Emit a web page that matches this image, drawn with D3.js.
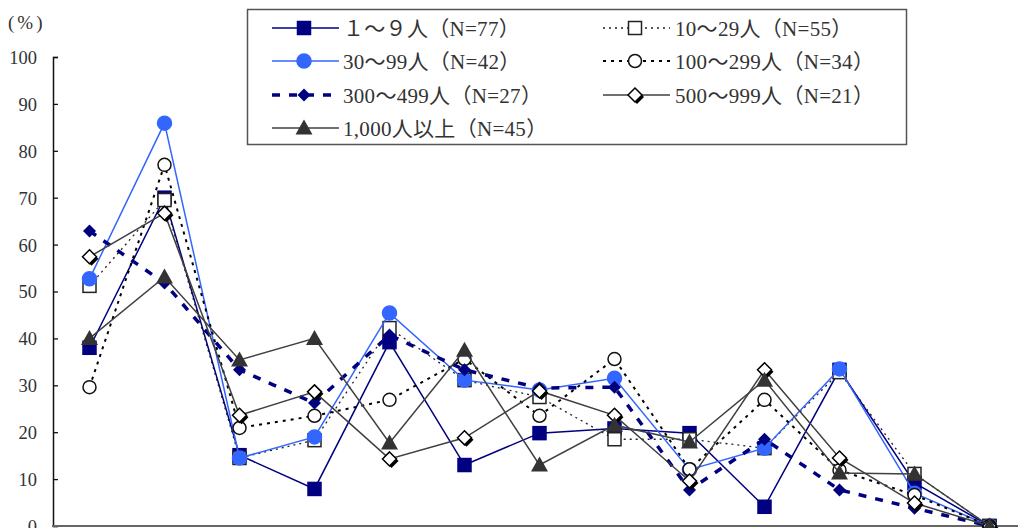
<!DOCTYPE html>
<html>
<head>
<meta charset="utf-8">
<script src="https://cdnjs.cloudflare.com/ajax/libs/d3/7.8.5/d3.min.js"></script>
<style>
  html, body { margin: 0; padding: 0; background: #fff; }
  svg { display: block; }
  text { font-family: "Liberation Serif", "DejaVu Serif", "Noto Sans CJK JP", serif; fill: #333; }
</style>
</head>
<body>
<svg id="chart" width="1018" height="528"></svg>
<script>
// Item index along the horizontal axis (13 response items)
const categories = ["1", "2", "3", "4", "5", "6", "7", "8", "9", "10", "11", "12", "13"];

// Share of respondents (%) by company size
const size1to9     = [38, 70, 15.1, 7.9, 39.2, 13, 19.8, 20.8, 19.8, 4.1, 33.3, 9.2, 0];
const size10to29   = [51.2, 69.5, 14.5, 18.3, 42.2, 31.1, 27.5, 18.5, 18.5, 16.6, 32.8, 11.1, 0];
const size30to99   = [52.7, 85.9, 14.5, 19, 45.4, 31.1, 29, 31.5, 12, 16.6, 33.5, 7, 0];
const size100to299 = [29.6, 77, 20.9, 23.5, 26.9, 35.6, 23.5, 35.6, 12.1, 26.9, 11.9, 6.6, 0];
const size300to499 = [62.9, 51.8, 33.3, 26.2, 40.7, 33.3, 29.4, 29.6, 7.7, 18.5, 7.7, 3.8, 0];
const size500to999 = [57.4, 66.7, 23.6, 28.6, 14.3, 18.8, 28.8, 23.6, 9.6, 33.3, 14.5, 4.9, 0];
const size1000plus = [40, 53.1, 35.4, 40, 17.7, 37.5, 13, 21.5, 17.9, 31.1, 11.3, 11.1, 0];

const seriesNames = [
  "１～９人（N=77）",
  "10～29人（N=55）",
  "30～99人（N=42）",
  "100～299人（N=34）",
  "300～499人（N=27）",
  "500～999人（N=21）",
  "1,000人以上（N=45）"
];
const yTicks = [0, 10, 20, 30, 40, 50, 60, 70, 80, 90, 100];

const styles = [
  { values: size1to9,     color: "#000080", width: 1.5, dash: null,  marker: "square",  fill: "#000080" },
  { values: size10to29,   color: "#222",    width: 1.3, dash: "2,4", marker: "square",  fill: "#fff" },
  { values: size30to99,   color: "#3366ff", width: 1.5, dash: null,  marker: "circle",  fill: "#3366ff" },
  { values: size100to299, color: "#000",    width: 2,   dash: "3,5", marker: "circle",  fill: "#fff" },
  { values: size300to499, color: "#000080", width: 3.5, dash: "8,9", marker: "diamond", fill: "#000080" },
  { values: size500to999, color: "#404040", width: 1.5, dash: null,  marker: "diamondOpen", fill: "#fff" },
  { values: size1000plus, color: "#404040", width: 1.5, dash: null,  marker: "triangle", fill: "#333" }
];

const svg = d3.select("#chart");

const x = d3.scaleBand().domain(categories).range([52, 1027]);
const xc = d => x(d) + x.bandwidth() / 2;
const y = d3.scaleLinear().domain([0, 100]).range([526, 57]);

// Y axis
const yAxis = svg.append("g").attr("transform", "translate(53,0)")
  .call(d3.axisRight(y).tickValues(yTicks).tickSize(5).tickFormat(d3.format("d")));
yAxis.attr("font-family", null).attr("font-size", null);
yAxis.select(".domain").attr("stroke", "#111").attr("stroke-width", 1.5);
yAxis.selectAll(".tick line").attr("stroke", "#111").attr("stroke-width", 1.3);
yAxis.selectAll(".tick text")
  .attr("x", -16).attr("text-anchor", "end").attr("dy", "0.35em")
  .style("font-size", "18.5px").style("fill", "#333");

svg.append("text").attr("x", 8).attr("y", 29).style("font-size", "19px").attr("letter-spacing", "3px").text("(%)");

// X axis baseline
svg.append("line")
  .attr("x1", 52).attr("x2", 1018)
  .attr("y1", y(0)).attr("y2", y(0))
  .attr("stroke", "#666").attr("stroke-width", 2);

// Marker drawing helper
function drawMarker(g, type, cx, cy, s) {
  if (type === "square") {
    g.append("rect").attr("x", cx - 6.5).attr("y", cy - 6.5).attr("width", 13).attr("height", 13)
      .attr("fill", s.fill).attr("stroke", s.fill === "#fff" ? "#222" : s.fill).attr("stroke-width", 1.5);
  } else if (type === "circle") {
    g.append("circle").attr("cx", cx).attr("cy", cy).attr("r", s.fill === "#fff" ? 6.5 : 7)
      .attr("fill", s.fill).attr("stroke", s.fill === "#fff" ? "#111" : s.fill).attr("stroke-width", 1.5);
  } else if (type === "diamond") {
    const r = 6.5;
    g.append("path").attr("d", `M${cx},${cy - r}L${cx + r},${cy}L${cx},${cy + r}L${cx - r},${cy}Z`)
      .attr("fill", s.fill);
  } else if (type === "diamondOpen") {
    const r = 7;
    g.append("path").attr("d", `M${cx + 2},${cy - r + 2}L${cx + r + 2},${cy + 2}L${cx + 2},${cy + r + 2}L${cx - r + 2},${cy + 2}Z`)
      .attr("fill", "#000");
    g.append("path").attr("d", `M${cx},${cy - r}L${cx + r},${cy}L${cx},${cy + r}L${cx - r},${cy}Z`)
      .attr("fill", "#fff").attr("stroke", "#000").attr("stroke-width", 1.5);
  } else if (type === "triangle") {
    g.append("path").attr("d", `M${cx},${cy - 8.5}L${cx + 8.5},${cy + 6.5}L${cx - 8.5},${cy + 6.5}Z`)
      .attr("fill", s.fill);
  }
}

// Series lines and markers
const line = d3.line().x((d, i) => xc(categories[i])).y(d => y(d));
styles.forEach(s => {
  const g = svg.append("g");
  g.append("path").datum(s.values).attr("d", line)
    .attr("fill", "none").attr("stroke", s.color).attr("stroke-width", s.width)
    .attr("stroke-dasharray", s.dash);
  s.values.forEach((v, i) => drawMarker(g, s.marker, xc(categories[i]), y(v), s));
});

// Legend
const lg = svg.append("g");
lg.append("rect").attr("x", 247.5).attr("y", 9.5).attr("width", 659).attr("height", 135)
  .attr("fill", "#fff").attr("stroke", "#555").attr("stroke-width", 1.5);
const rowsY = [28, 61, 95, 128];
const cols = [
  { x1: 272, x2: 339, mx: 304, tx: 343 },
  { x1: 603, x2: 670, mx: 635, tx: 675 }
];
styles.forEach((s, i) => {
  const c = cols[i % 2];
  const ry = rowsY[Math.floor(i / 2)];
  lg.append("line").attr("x1", c.x1).attr("x2", c.x2).attr("y1", ry).attr("y2", ry)
    .attr("stroke", s.color).attr("stroke-width", s.width).attr("stroke-dasharray", s.dash);
  drawMarker(lg, s.marker, c.mx, ry, s);
  lg.append("text").attr("x", c.tx).attr("y", ry).attr("dy", "0.36em")
    .style("font-size", "21px").attr("letter-spacing", "0.3px").style("fill", "#333").text(seriesNames[i]);
});
</script>
</body>
</html>
